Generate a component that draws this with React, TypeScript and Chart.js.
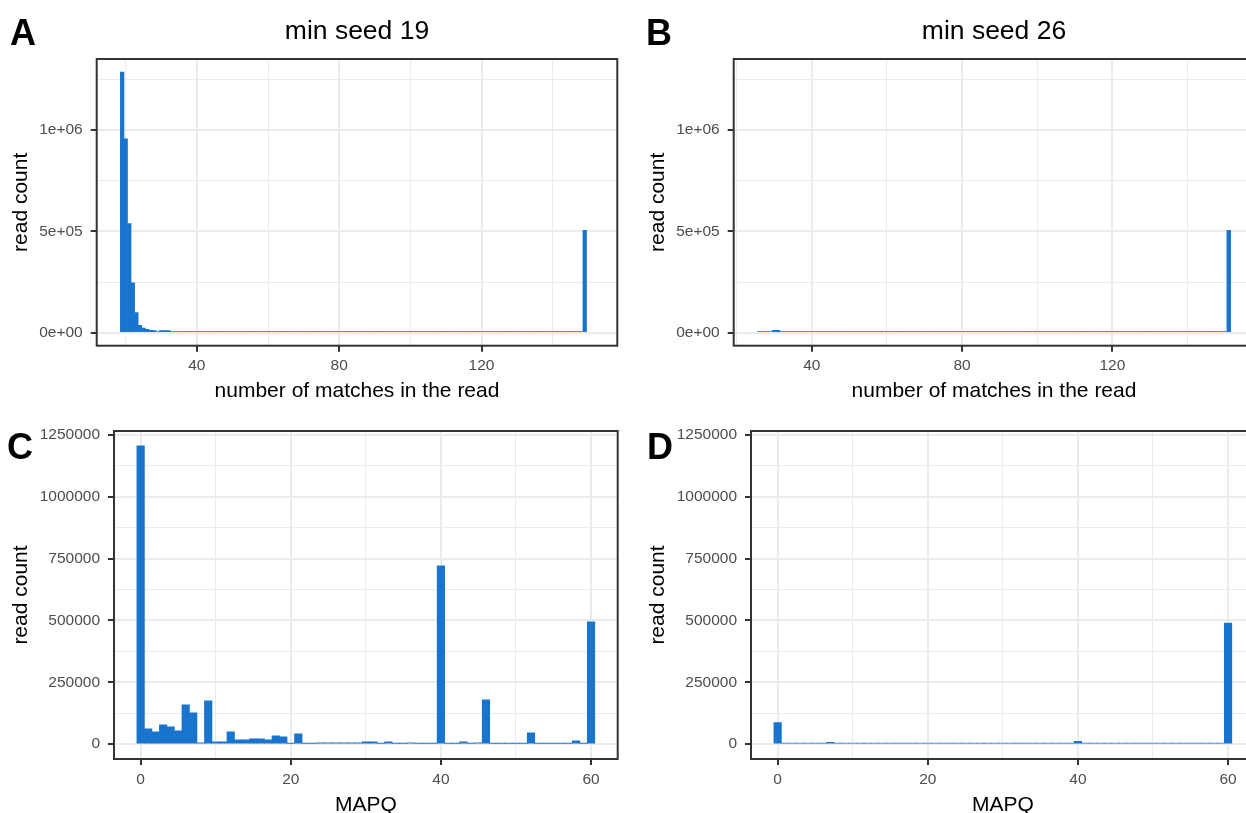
import React, { useEffect, useRef } from "react";
import { Chart, registerables } from "chart.js";

Chart.register(...registerables);

const FONT = "'Liberation Sans', Arial, Helvetica, sans-serif";
const BAR_COLOR = "#1874CD";
const GRID = "#EBEBEB";
const FRAME = "#333333";
const TICK_TEXT = "#4D4D4D";

// ---------------- data ----------------
// Panel A: min seed 19, histogram of number of matches in the read (bins of width 1)
const matchesA = [
  19, 20, 21, 22, 23, 24, 25, 26, 27, 28, 29, 30, 31, 32, 33, 34, 35, 36, 37, 38, 39, 40,
  41, 42, 43, 44, 45, 46, 47, 48, 49, 50, 51, 52, 53, 54, 55, 56, 57, 58, 59, 60, 61, 62,
  63, 64, 65, 66, 67, 68, 69, 70, 71, 72, 73, 74, 75, 76, 77, 78, 79, 80, 81, 82, 83, 84,
  85, 86, 87, 88, 89, 90, 91, 92, 93, 94, 95, 96, 97, 98, 99, 100, 101, 102, 103, 104, 105,
  106, 107, 108, 109, 110, 111, 112, 113, 114, 115, 116, 117, 118, 119, 120, 121, 122, 123,
  124, 125, 126, 127, 128, 129, 130, 131, 132, 133, 134, 135, 136, 137, 138, 139, 140, 141,
  142, 143, 144, 145, 146, 147, 148, 149, 150, 151,
];
const countsA = [
  1286000, 956000, 538000, 246000, 98500, 36000, 23000, 17000, 12000, 10000, 5000, 10000, 10000, 10000,
  5000, 5000, 5000, 5000, 5000, 5000, 5000, 5000, 5000, 5000, 5000, 5000, 5000, 5000, 5000, 5000,
  5000, 5000, 5000, 5000, 5000, 5000, 5000, 5000, 5000, 5000, 5000, 5000, 5000, 5000, 5000, 5000,
  5000, 5000, 5000, 5000, 5000, 5000, 5000, 5000, 5000, 5000, 5000, 5000, 5000, 5000, 5000, 5000,
  5000, 5000, 5000, 5000, 5000, 5000, 5000, 5000, 5000, 5000, 5000, 5000, 5000, 5000, 5000, 5000,
  5000, 5000, 5000, 5000, 5000, 5000, 5000, 5000, 5000, 5000, 5000, 5000, 5000, 5000, 5000, 5000,
  5000, 5000, 5000, 5000, 5000, 5000, 5000, 5000, 5000, 5000, 5000, 5000, 5000, 5000, 5000, 5000,
  5000, 5000, 5000, 5000, 5000, 5000, 5000, 5000, 5000, 5000, 5000, 5000, 5000, 5000, 5000, 5000,
  5000, 5000, 5000, 5000, 505000,
];

// Panel B: min seed 26
const matchesB = [
  26, 27, 28, 29, 30, 31, 32, 33, 34, 35, 36, 37, 38, 39, 40, 41, 42, 43, 44, 45, 46, 47,
  48, 49, 50, 51, 52, 53, 54, 55, 56, 57, 58, 59, 60, 61, 62, 63, 64, 65, 66, 67, 68, 69,
  70, 71, 72, 73, 74, 75, 76, 77, 78, 79, 80, 81, 82, 83, 84, 85, 86, 87, 88, 89, 90, 91,
  92, 93, 94, 95, 96, 97, 98, 99, 100, 101, 102, 103, 104, 105, 106, 107, 108, 109, 110,
  111, 112, 113, 114, 115, 116, 117, 118, 119, 120, 121, 122, 123, 124, 125, 126, 127, 128,
  129, 130, 131, 132, 133, 134, 135, 136, 137, 138, 139, 140, 141, 142, 143, 144, 145, 146,
  147, 148, 149, 150, 151,
];
const countsB = [
  5000, 5000, 5000, 5000, 12000, 12000, 5000, 5000, 5000, 5000, 5000, 5000, 5000, 5000, 5000, 5000,
  5000, 5000, 5000, 5000, 5000, 5000, 5000, 5000, 5000, 5000, 5000, 5000, 5000, 5000, 5000, 5000,
  5000, 5000, 5000, 5000, 5000, 5000, 5000, 5000, 5000, 5000, 5000, 5000, 5000, 5000, 5000, 5000,
  5000, 5000, 5000, 5000, 5000, 5000, 5000, 5000, 5000, 5000, 5000, 5000, 5000, 5000, 5000, 5000,
  5000, 5000, 5000, 5000, 5000, 5000, 5000, 5000, 5000, 5000, 5000, 5000, 5000, 5000, 5000, 5000,
  5000, 5000, 5000, 5000, 5000, 5000, 5000, 5000, 5000, 5000, 5000, 5000, 5000, 5000, 5000, 5000,
  5000, 5000, 5000, 5000, 5000, 5000, 5000, 5000, 5000, 5000, 5000, 5000, 5000, 5000, 5000, 5000,
  5000, 5000, 5000, 5000, 5000, 5000, 5000, 5000, 5000, 5000, 5000, 5000, 5000, 505000,
];

// Panel C: MAPQ, min seed 19
const mapqC = [
  0, 1, 2, 3, 4, 5, 6, 7, 8, 9, 10, 11, 12, 13, 14, 15, 16, 17, 18, 19, 20, 21, 22, 23, 24,
  25, 26, 27, 28, 29, 30, 31, 32, 33, 34, 35, 36, 37, 38, 39, 40, 41, 42, 43, 44, 45, 46, 47,
  48, 49, 50, 51, 52, 53, 54, 55, 56, 57, 58, 59, 60,
];
const countsC = [
  1205600, 62000, 49800, 78100, 70000, 53900, 159000, 126600, 5400, 175100,
  9400, 9400, 49800, 17500, 17500, 21600, 21600, 17500, 33700, 29600,
  3000, 41800, 3000, 3000, 5400, 5400, 5400, 5400, 5400, 5400,
  9400, 9400, 3000, 9400, 3000, 3000, 5400, 3000, 3000, 3000,
  720600, 3000, 3000, 9400, 3000, 5400, 179200, 3000, 3000, 3000,
  3000, 3000, 45800, 3000, 3000, 3000, 3000, 3000, 13500, 3000,
  494400,
];

// Panel D: MAPQ, min seed 26
const mapqD = [
  0, 1, 2, 3, 4, 5, 6, 7, 8, 9, 10, 11, 12, 13, 14, 15, 16, 17, 18, 19, 20, 21, 22, 23, 24,
  25, 26, 27, 28, 29, 30, 31, 32, 33, 34, 35, 36, 37, 38, 39, 40, 41, 42, 43, 44, 45, 46, 47,
  48, 49, 50, 51, 52, 53, 54, 55, 56, 57, 58, 59, 60,
];
const countsD = [
  87300, 3500, 3500, 3500, 3500, 3500, 3500, 6800, 3500, 3500,
  3500, 3500, 3500, 3500, 3500, 3500, 3500, 3500, 3500, 3500,
  3500, 3500, 3500, 3500, 3500, 3500, 3500, 3500, 3500, 3500,
  3500, 3500, 3500, 3500, 3500, 3500, 3500, 3500, 3500, 3500,
  10900, 3500, 3500, 3500, 3500, 3500, 3500, 3500, 3500, 3500,
  3500, 3500, 3500, 3500, 3500, 3500, 3500, 3500, 3500, 3500,
  489000,
];

// ---------------- text & ticks ----------------
const panelLetters = ["A", "B", "C", "D"];
const panelTitles = ["min seed 19", "min seed 26"];
const xTitleTop = "number of matches in the read";
const xTitleBottom = "MAPQ";
const yTitle = "read count";

const xMajorTop = [40, 80, 120];
const xMinorTop = [20, 60, 100, 140];
const yMajorTop = [0, 500000, 1000000];
const yMajorTopLabels = ["0e+00", "5e+05", "1e+06"];
const yMinorTop = [250000, 750000, 1250000];

const xMajorBottom = [0, 20, 40, 60];
const xMinorBottom = [10, 30, 50];
const yMajorBottom = [0, 250000, 500000, 750000, 1000000, 1250000];
const yMajorBottomLabels = ["0", "250000", "500000", "750000", "1000000", "1250000"];
const yMinorBottom = [125000, 375000, 625000, 875000, 1125000];

// ggplot-style 5% expansion
function expand(lo: number, hi: number): [number, number] {
  const d = hi - lo;
  return [lo - 0.05 * d, hi + 0.05 * d];
}

const topMax = Math.max(...countsA, ...countsB);
const bottomMax = Math.max(...countsC, ...countsD);
const yRangeTop = expand(0, topMax);
const yRangeBottom = expand(0, bottomMax);

const CW = 640;
const CH = 420;
const XAXIS_H = 60;

type PanelSpec = {
  left: number;
  top: number;
  xs: number[];
  ys: number[];
  xRange: [number, number];
  yRange: [number, number];
  xMajor: number[];
  xMinor: number[];
  yMajor: number[];
  yLabels: string[];
  yMinor: number[];
  xTitle: string;
  chartLeft: number;
  chartTop: number;
  chartRight: number;
  chartBottom: number;
};

const framePlugin = {
  id: "frame",
  afterDraw(chart: any) {
    const { ctx, chartArea: a } = chart;
    ctx.save();
    ctx.strokeStyle = FRAME;
    ctx.lineWidth = 2;
    ctx.strokeRect(a.left, a.top, a.right - a.left, a.bottom - a.top);
    ctx.restore();
  },
};

function buildConfig(p: PanelSpec): any {
  const xIsMajor = (v: number) => p.xMajor.includes(v);
  const yIsMajor = (v: number) => p.yMajor.includes(v);
  const xTicks = [...p.xMajor, ...p.xMinor].sort((a, b) => a - b);
  const yTicks = [...p.yMajor, ...p.yMinor].sort((a, b) => a - b);
  return {
    type: "bar",
    data: {
      datasets: [
        {
          data: p.xs.map((x, i) => ({ x, y: p.ys[i] })),
          backgroundColor: BAR_COLOR,
          borderWidth: 0,
          barPercentage: 1,
          categoryPercentage: 1,
        },
      ],
    },
    options: {
      animation: false,
      responsive: false,
      maintainAspectRatio: false,
      layout: {
        padding: {
          left: 0,
          top: p.chartTop,
          right: CW - p.chartRight,
          bottom: CH - p.chartBottom - XAXIS_H,
        },
      },
      plugins: { legend: { display: false }, tooltip: { enabled: false } },
      scales: {
        x: {
          type: "linear",
          min: p.xRange[0],
          max: p.xRange[1],
          offset: false,
          afterBuildTicks: (s: any) => {
            s.ticks = xTicks.map((v) => ({ value: v }));
          },
          afterFit: (s: any) => {
            s.height = XAXIS_H;
          },
          grid: {
            offset: false,
            color: GRID,
            lineWidth: (c: any) => (c.tick && xIsMajor(c.tick.value) ? 2 : 1),
            drawTicks: true,
            tickLength: 6,
            tickWidth: 2,
            tickColor: (c: any) => (c.tick && xIsMajor(c.tick.value) ? FRAME : "rgba(0,0,0,0)"),
          },
          border: { display: false },
          ticks: {
            autoSkip: false,
            maxRotation: 0,
            minRotation: 0,
            padding: 5,
            color: TICK_TEXT,
            font: { family: FONT, size: 15.5 },
            callback: (v: number) => (xIsMajor(v) ? String(v) : ""),
          },
          title: {
            display: true,
            text: p.xTitle,
            color: "#000000",
            font: { family: FONT, size: 21 },
            padding: { top: 0, bottom: 1.5 },
          },
        },
        y: {
          type: "linear",
          min: p.yRange[0],
          max: p.yRange[1],
          afterBuildTicks: (s: any) => {
            s.ticks = yTicks.map((v) => ({ value: v }));
          },
          afterFit: (s: any) => {
            s.width = p.chartLeft;
          },
          grid: {
            color: GRID,
            lineWidth: (c: any) => (c.tick && yIsMajor(c.tick.value) ? 2 : 1),
            drawTicks: true,
            tickLength: 6,
            tickWidth: 2,
            tickColor: (c: any) => (c.tick && yIsMajor(c.tick.value) ? FRAME : "rgba(0,0,0,0)"),
          },
          border: { display: false },
          ticks: {
            autoSkip: false,
            padding: 8,
            color: TICK_TEXT,
            font: { family: FONT, size: 15.5 },
            callback: (v: number) => {
              const i = p.yMajor.indexOf(v);
              return i >= 0 ? p.yLabels[i] : "";
            },
          },
          title: {
            display: true,
            text: yTitle,
            color: "#000000",
            font: { family: FONT, size: 21 },
            padding: { top: 8.5, bottom: 0 },
          },
        },
      },
    },
    plugins: [framePlugin],
  };
}

const panels: PanelSpec[] = [
  {
    left: 0,
    top: 0,
    xs: matchesA,
    ys: countsA,
    xRange: expand(matchesA[0] - 0.5, matchesA[matchesA.length - 1] + 0.5),
    yRange: yRangeTop,
    xMajor: xMajorTop,
    xMinor: xMinorTop,
    yMajor: yMajorTop,
    yLabels: yMajorTopLabels,
    yMinor: yMinorTop,
    xTitle: xTitleTop,
    chartLeft: 96.7,
    chartTop: 59,
    chartRight: 617.3,
    chartBottom: 345.7,
  },
  {
    left: 637,
    top: 0,
    xs: matchesB,
    ys: countsB,
    xRange: expand(matchesB[0] - 0.5, matchesB[matchesB.length - 1] + 0.5),
    yRange: yRangeTop,
    xMajor: xMajorTop,
    xMinor: xMinorTop,
    yMajor: yMajorTop,
    yLabels: yMajorTopLabels,
    yMinor: yMinorTop,
    xTitle: xTitleTop,
    chartLeft: 96.7,
    chartTop: 59,
    chartRight: 617.3,
    chartBottom: 345.7,
  },
  {
    left: 0,
    top: 406,
    xs: mapqC,
    ys: countsC,
    xRange: expand(mapqC[0] - 0.5, mapqC[mapqC.length - 1] + 0.5),
    yRange: yRangeBottom,
    xMajor: xMajorBottom,
    xMinor: xMinorBottom,
    yMajor: yMajorBottom,
    yLabels: yMajorBottomLabels,
    yMinor: yMinorBottom,
    xTitle: xTitleBottom,
    chartLeft: 114,
    chartTop: 25,
    chartRight: 617.7,
    chartBottom: 353,
  },
  {
    left: 637,
    top: 406,
    xs: mapqD,
    ys: countsD,
    xRange: expand(mapqD[0] - 0.5, mapqD[mapqD.length - 1] + 0.5),
    yRange: yRangeBottom,
    xMajor: xMajorBottom,
    xMinor: xMinorBottom,
    yMajor: yMajorBottom,
    yLabels: yMajorBottomLabels,
    yMinor: yMinorBottom,
    xTitle: xTitleBottom,
    chartLeft: 114,
    chartTop: 25,
    chartRight: 617.7,
    chartBottom: 353,
  },
];

function Panel({ spec }: { spec: PanelSpec }) {
  const ref = useRef<HTMLCanvasElement | null>(null);
  useEffect(() => {
    if (!ref.current) return;
    const chart = new Chart(ref.current, buildConfig(spec));
    return () => chart.destroy();
  }, [spec]);
  return (
    <canvas
      ref={ref}
      width={CW}
      height={CH}
      style={{
        position: "absolute",
        left: spec.left,
        top: spec.top,
        width: CW,
        height: CH,
        display: "block",
      }}
    />
  );
}

const letterPos = [
  { left: 10, top: 14.5 },
  { left: 646, top: 14.5 },
  { left: 7, top: 429 },
  { left: 647, top: 429 },
];

const titleCenters = [357, 994];

export default function App() {
  return (
    <div
      style={{
        position: "fixed",
        left: 0,
        top: 0,
        width: 1246,
        height: 813,
        overflow: "hidden",
        background: "#ffffff",
      }}
    >
      {panels.map((p, i) => (
        <Panel key={i} spec={p} />
      ))}
      {panelLetters.map((l, i) => (
        <div
          key={l}
          style={{
            position: "absolute",
            left: letterPos[i].left,
            top: letterPos[i].top,
            fontFamily: FONT,
            fontWeight: "bold",
            fontSize: 36,
            lineHeight: "36px",
            color: "#000",
          }}
        >
          {l}
        </div>
      ))}
      {panelTitles.map((t, i) => (
        <div
          key={t}
          style={{
            position: "absolute",
            left: titleCenters[i] - 200,
            width: 400,
            top: 17,
            textAlign: "center",
            fontFamily: FONT,
            fontSize: 26.5,
            lineHeight: "26px",
            color: "#000",
          }}
        >
          {t}
        </div>
      ))}
    </div>
  );
}
